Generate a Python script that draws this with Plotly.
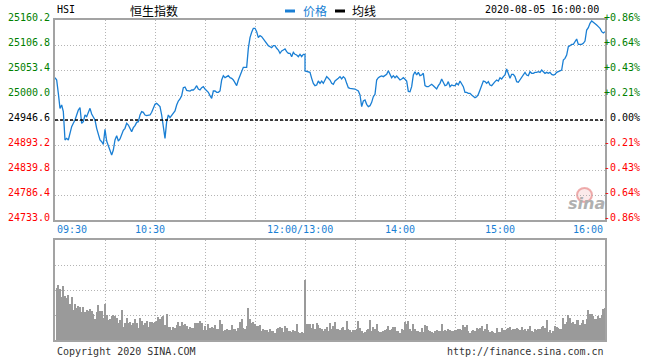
import plotly.graph_objects as go
import pandas as pd

# ---------------- data ----------------
symbol = "HSI"
title_cn = "恒生指数"
timestamp = "2020-08-05 16:00:00"
prev_close = 24946.6
price_ticks = [24733.0, 24786.4, 24839.8, 24893.2, 24946.6, 25000.0, 25053.4, 25106.8, 25160.2]
time_labels = ["09:30", "10:30", "12:00/13:00", "14:00", "15:00", "16:00"]

# index level each minute 09:30 .. 12:00
am_price = [
    25037.0, 25032.0, 25003.6, 24971.5, 24978.6, 24964.4, 24903.9, 24907.4, 24903.9, 24921.7,
    24932.4, 24939.5, 24946.6, 24957.3, 24968.0, 24972.9, 24939.5, 24943.0, 24957.3, 24953.7,
    24964.4, 24971.5, 24959.4, 24953.7, 24946.6, 24928.8, 24914.6, 24903.9, 24900.3, 24894.6,
    24926.7, 24901.7, 24891.8, 24879.0, 24871.8, 24882.5, 24903.9, 24913.1, 24901.7, 24906.0,
    24916.0, 24924.5, 24928.8, 24939.5, 24935.9, 24926.7, 24921.7, 24930.2, 24934.5, 24941.6,
    24943.0, 24957.3, 24964.4, 24963.0, 24957.3, 24955.9, 24955.9, 24957.3, 24963.0, 24971.5,
    24980.1, 24982.2, 24978.6, 24975.1, 24957.3, 24932.4, 24907.4, 24943.0, 24957.3, 24951.6,
    24955.9, 24960.8, 24965.8, 24978.6, 24987.2, 24991.5, 24998.6, 25015.7, 25017.1, 25010.0,
    25008.5, 25008.5, 25010.7, 25010.7, 25014.2, 25019.9, 25012.8, 25010.7, 25015.7, 25017.8,
    25012.8, 25008.5, 25005.7, 24998.6, 24992.9, 25008.5, 25008.5, 25005.7, 25005.7, 25008.5,
    25032.0, 25041.3, 25037.0, 25039.2, 25041.3, 25037.0, 25035.6, 25032.0, 25024.9, 25019.9,
    25032.0, 25041.3, 25049.8, 25059.1, 25059.1, 25059.1, 25099.7, 25122.5, 25133.9, 25142.4,
    25142.4, 25135.3, 25122.5, 25126.7, 25124.6, 25119.6, 25115.3, 25108.2, 25105.4, 25103.2,
    25101.1, 25105.4, 25105.4, 25099.7, 25096.1, 25089.0, 25094.0, 25096.1, 25098.3, 25092.6,
    25089.0, 25089.0, 25081.9, 25091.1, 25086.9, 25085.4, 25081.9, 25086.9, 25081.9, 25086.9,
    25086.9,
]
# index level each minute 13:00 .. 16:00
pm_price = [
    25051.3, 25049.8, 25049.8, 25048.4, 25035.6, 25024.9, 25019.9, 25021.4, 25029.9, 25024.9,
    25029.9, 25024.9, 25032.0, 25039.2, 25035.6, 25032.0, 25024.9, 25022.8, 25029.9, 25032.0,
    25035.6, 25039.2, 25034.2, 25039.2, 25035.6, 25024.9, 25015.7, 25014.2, 25014.2, 25012.8,
    25012.8, 25010.7, 25008.5, 25000.0, 24975.1, 24987.2, 24989.3, 24980.1, 24975.1, 24977.2,
    24984.3, 24996.4, 25001.4, 25032.0, 25037.0, 25039.2, 25040.6, 25039.2, 25042.7, 25044.1,
    25052.0, 25042.7, 25037.0, 25041.3, 25037.0, 25040.6, 25035.6, 25032.0, 25034.2, 25037.0,
    25033.5, 25029.9, 25007.8, 25007.1, 25017.8, 25042.7, 25049.8, 25042.7, 25048.4, 25041.3,
    25042.7, 25046.3, 25019.9, 25017.8, 25017.8, 25019.9, 25022.8, 25019.9, 25015.7, 25012.8,
    25019.9, 25024.9, 25034.2, 25028.5, 25019.9, 25021.4, 25028.5, 25017.8, 25021.4, 25019.9,
    25019.9, 25024.9, 25021.4, 25029.9, 25024.9, 25017.8, 25005.7, 25005.7, 25003.6, 25003.6,
    25000.0, 24996.4, 24994.3, 24996.4, 25001.4, 25010.7, 25019.9, 25029.9, 25028.5, 25024.9,
    25028.5, 25021.4, 25019.9, 25024.9, 25028.5, 25032.0, 25029.9, 25037.0, 25034.2, 25039.2,
    25042.7, 25055.5, 25042.7, 25035.6, 25044.1, 25044.1, 25039.2, 25028.5, 25027.1, 25032.0,
    25039.2, 25044.1, 25048.4, 25042.7, 25041.3, 25049.8, 25046.3, 25046.3, 25048.4, 25048.4,
    25049.8, 25048.4, 25053.4, 25049.8, 25046.3, 25048.4, 25046.3, 25048.4, 25044.1, 25042.7,
    25044.1, 25048.4, 25049.8, 25051.3, 25053.4, 25074.8, 25078.3, 25085.4, 25103.2, 25105.4,
    25108.2, 25108.2, 25113.9, 25119.6, 25108.2, 25108.2, 25108.2, 25110.4, 25115.3, 25138.8,
    25143.8, 25153.1, 25158.1, 25155.2, 25153.1, 25149.5, 25146.0, 25142.4, 25135.3, 25132.4,
    25135.3,
]
# volume per minute (relative units), 09:31 .. 12:00
am_volume = [
    52, 55, 51, 43, 54, 44, 42, 45, 36, 43, 30, 36, 32, 34, 33, 28, 33, 28, 30, 29,
    31, 29, 26, 21, 28, 35, 29, 29, 22, 36, 25, 20, 21, 24, 25, 24, 22, 17, 20, 30,
    13, 17, 22, 17, 18, 15, 17, 21, 17, 12, 22, 19, 15, 17, 19, 13, 18, 18, 17, 18,
    19, 23, 21, 23, 24, 15, 26, 13, 13, 10, 13, 12, 15, 18, 14, 18, 15, 16, 14, 11,
    13, 12, 12, 17, 17, 17, 19, 17, 10, 14, 10, 16, 12, 13, 12, 15, 11, 11, 20, 16,
    9, 10, 11, 10, 10, 15, 11, 11, 9, 12, 18, 21, 12, 11, 14, 32, 21, 17, 18, 16,
    14, 14, 15, 9, 11, 10, 10, 8, 11, 9, 9, 7, 11, 12, 13, 12, 8, 14, 12, 9,
    9, 8, 10, 9, 16, 8, 7, 8, 7, 60,
]
# volume per minute (relative units), 13:01 .. 16:00
pm_volume = [
    16, 16, 16, 12, 16, 11, 17, 15, 12, 11, 9, 11, 13, 9, 17, 11, 14, 18, 11, 11,
    10, 12, 13, 10, 19, 11, 10, 8, 10, 10, 11, 19, 12, 9, 7, 8, 10, 11, 20, 9,
    13, 11, 16, 9, 8, 8, 9, 10, 11, 14, 10, 11, 13, 13, 9, 9, 7, 11, 10, 18,
    16, 19, 11, 9, 16, 11, 9, 9, 8, 12, 8, 15,
    14, 10, 9, 8, 7, 9, 10, 9, 9, 16, 9, 10, 9, 11, 10, 9, 9, 10, 10, 11,
    11, 10, 15, 13, 15, 9, 7, 9, 10, 9, 12, 11, 12, 14, 9, 11, 16, 10, 8, 9,
    8, 7, 12, 8, 8, 12, 10, 10, 11, 12, 13, 10, 11, 11, 12, 11, 10, 13, 10, 11,
    9, 11, 14, 9, 8, 11, 10, 11, 11, 13, 14, 12, 20, 8, 10, 7, 9, 14, 13, 12,
    11, 11, 22, 16, 18, 25, 22, 17, 18, 16, 20, 20, 15, 17, 20, 16, 21, 30, 26, 26,
    24, 21, 21, 24, 22, 25, 31, 32,
]

# ---------------- helpers ----------------
W, H = 660, 360
def px(x): return x / W
def py(y): return 1 - y / H

def session_minute(t):
    """trading-minute position (lunch break removed)"""
    m = t.hour * 60 + t.minute
    return m - 570 if m <= 720 else 150 + m - 780

day = "2020-08-05 "
am_t = pd.date_range(day + "09:30", day + "12:00", freq="1min")
pm_t = pd.date_range(day + "13:00", day + "16:00", freq="1min")
am_vt = pd.date_range(day + "09:31", day + "12:00", freq="1min")
pm_vt = pd.date_range(day + "13:01", day + "16:00", freq="1min")

price_x = [session_minute(t) for t in am_t] + [session_minute(t) for t in pm_t]
price_y = am_price + pm_price
vol_x = [session_minute(t) for t in am_vt] + [session_minute(t) for t in pm_vt]
vol_y = am_volume + pm_volume

BLUE = "#1a7fd4"
GRID = "#b4b4b4"
BORDER = "#a3a3a3"
MONO = "DejaVu Sans Mono, Liberation Mono, monospace"
CJK = "Noto Sans CJK SC, sans-serif"

fig = go.Figure()
fig.add_trace(go.Scatter(x=price_x, y=price_y, mode="lines",
                         line=dict(color=BLUE, width=1.3),
                         xaxis="x", yaxis="y", hoverinfo="skip"))
fig.add_trace(go.Bar(x=vol_x, y=vol_y, width=0.48,
                     marker=dict(color="#9a9a9a", line=dict(width=0)),
                     xaxis="x2", yaxis="y2", hoverinfo="skip"))

grid_x = list(range(0, 331, 30))
common_x = dict(range=[0, 330], tickvals=grid_x, showticklabels=False, ticks="",
                showgrid=True, gridcolor=GRID, gridwidth=1, griddash="1px,2px",
                zeroline=False, showline=True, mirror=True, linecolor=BORDER,
                linewidth=1.5, fixedrange=True, domain=[px(55), px(605)])
common_y = dict(showticklabels=False, ticks="", showgrid=True, gridcolor=GRID,
                gridwidth=1, griddash="1px,2px", zeroline=False, showline=True,
                mirror=True, linecolor=BORDER, linewidth=1.5, fixedrange=True)

fig.update_layout(
    width=W, height=H, margin=dict(l=0, r=0, t=0, b=0),
    paper_bgcolor="white", plot_bgcolor="white", showlegend=False,
    bargap=0,
    xaxis=dict(**common_x, anchor="y"),
    yaxis=dict(**common_y, range=[price_ticks[0], price_ticks[-1]], tickvals=price_ticks,
               domain=[py(220), py(20)], anchor="x"),
    xaxis2=dict(**common_x, anchor="y2", matches="x"),
    yaxis2=dict(**common_y, range=[0, 100], tickvals=[0, 25, 50, 75, 100],
                domain=[py(340), py(240)], anchor="x2"),
)

# previous close dashed line
fig.add_shape(type="line", xref="x", yref="y", x0=0, x1=330, y0=prev_close, y1=prev_close,
              line=dict(color="black", width=1.5, dash="3px,2px"))

ann = []
for v in price_ticks:
    if abs(v - prev_close) < 1e-6:
        col, pct = "#000000", "0.00%"
    else:
        col = "#008000" if v > prev_close else "#ff0000"
        pct = "%+.2f%%" % ((v - prev_close) / prev_close * 100)
    ann.append(dict(x=px(52), xref="paper", y=v, yref="y", text="%.1f" % v,
                    xanchor="right", yanchor="middle", yshift=3, showarrow=False,
                    font=dict(family=MONO, size=10, color=col)))
    ann.append(dict(x=px(642), xref="paper", y=v, yref="y", text=pct,
                    xanchor="right", yanchor="middle", yshift=3, showarrow=False,
                    font=dict(family=MONO, size=10, color=col)))

for i, lab in enumerate(time_labels):
    t = pd.Timestamp(day + lab.split("/")[0])
    xm = session_minute(t)
    if i == 0:
        xa, sh = "left", 0
    elif i == len(time_labels) - 1:
        xa, sh = "right", 0
    else:
        xa, sh = "center", -5
    ann.append(dict(x=xm, xref="x", y=py(230), yref="paper", text=lab, xanchor=xa,
                    yanchor="middle", xshift=sh, showarrow=False,
                    font=dict(family=MONO, size=10, color=BLUE)))

# header
ann += [
    dict(x=px(55), y=py(9.5), xref="paper", yref="paper", text=symbol, xanchor="left",
         yanchor="middle", showarrow=False, font=dict(family=MONO, size=10, color="black")),
    dict(x=px(154), y=py(10), xref="paper", yref="paper", text=title_cn, xanchor="center",
         yanchor="middle", showarrow=False, font=dict(family=CJK, size=12, color="black")),
    dict(x=px(301), y=py(10), xref="paper", yref="paper", text="价格", xanchor="left",
         yanchor="middle", showarrow=False, font=dict(family=CJK, size=12, color=BLUE)),
    dict(x=px(350), y=py(10), xref="paper", yref="paper", text="均线", xanchor="left",
         yanchor="middle", showarrow=False, font=dict(family=CJK, size=12, color="black")),
    dict(x=px(601), y=py(9.5), xref="paper", yref="paper", text=timestamp, xanchor="right",
         yanchor="middle", showarrow=False, font=dict(family=MONO, size=10, color="black")),
    dict(x=px(55), y=py(351), xref="paper", yref="paper", text="Copyright 2020 SINA.COM",
         xanchor="left", yanchor="middle", showarrow=False,
         font=dict(family=MONO, size=10, color="#333333")),
    dict(x=px(606), y=py(351), xref="paper", yref="paper", text="http://finance.sina.com.cn",
         xanchor="right", yanchor="middle", showarrow=False,
         font=dict(family=MONO, size=10, color="#333333")),
    dict(x=px(586), y=py(203), xref="paper", yref="paper", text="<b><i>sina</i></b>",
         xanchor="center", yanchor="middle", showarrow=False,
         font=dict(family="DejaVu Sans, sans-serif", size=16, color="#b0b0b0")),
]
fig.update_layout(annotations=ann)

# legend marks + watermark eye
fig.add_shape(type="rect", xref="paper", yref="paper", x0=px(285), x1=px(295),
              y0=py(12.5), y1=py(9.5), line=dict(width=0), fillcolor=BLUE)
fig.add_shape(type="rect", xref="paper", yref="paper", x0=px(335), x1=px(345),
              y0=py(12.5), y1=py(9.5), line=dict(width=0), fillcolor="black")
fig.add_shape(type="circle", xref="paper", yref="paper", x0=px(577), x1=px(592),
              y0=py(202), y1=py(188), line=dict(color="rgba(225,110,110,0.55)", width=2),
              fillcolor="rgba(240,170,170,0.25)", layer="below")

fig.write_html("out.html", config={"displayModeBar": False},
               post_script="document.body.style.margin='0';document.body.style.padding='0';")
